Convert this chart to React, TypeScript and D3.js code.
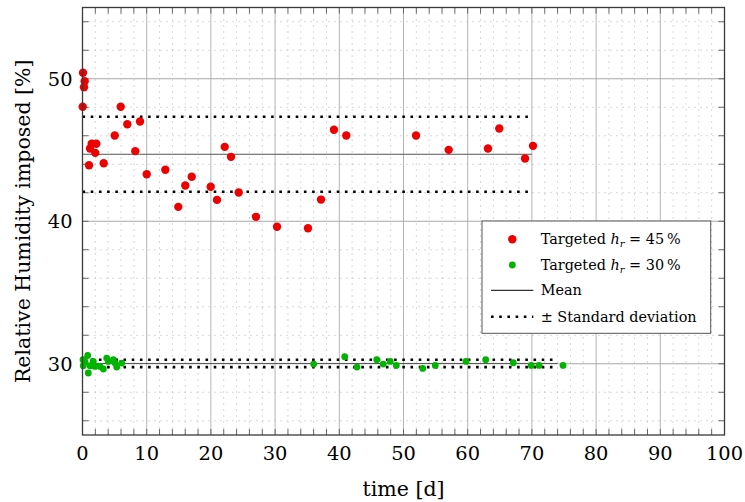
import React from "react";
import * as d3 from "d3";

// Targeted h_r = 45 % series (time in days, RH in %)
const redTime = [0.08, 0.34, 0.23, 0.03, 5.95, 6.98, 8.96, 5.02, 1.43, 2.15, 1.17, 1.99, 8.22, 22.15, 23.13, 1.01, 3.3, 10.0, 12.9, 14.92, 16.01, 17.01, 19.97, 20.95, 24.33, 27.02, 30.3, 35.12, 37.15, 39.17, 41.09, 51.95, 57.04, 63.16, 64.92, 68.93, 70.17];
const redRH = [50.42, 49.83, 49.41, 48.03, 48.03, 46.81, 47.0, 46.02, 45.44, 45.44, 45.11, 44.8, 44.92, 45.22, 44.52, 43.93, 44.07, 43.3, 43.61, 41.01, 42.51, 43.12, 42.42, 41.5, 42.02, 40.31, 39.61, 39.51, 41.52, 46.42, 46.02, 46.02, 45.01, 45.11, 46.51, 44.4, 45.29];

// Targeted h_r = 30 % series
const greenTime = [0.08, 0.81, 0.9, 0.12, 0.39, 1.68, 1.95, 2.73, 3.24, 3.77, 4.02, 4.8, 5.06, 5.33, 6.1, 1.17, 36.01, 40.84, 42.76, 45.83, 46.85, 47.94, 48.88, 52.99, 54.95, 59.74, 62.8, 67.1, 69.9, 71.1, 74.85];
const greenRH = [30.28, 30.58, 29.35, 29.86, 30.14, 30.16, 29.81, 29.81, 29.63, 30.4, 30.16, 30.28, 30.05, 29.77, 30.05, 29.86, 29.98, 30.49, 29.77, 30.28, 29.98, 30.16, 29.88, 29.67, 29.88, 30.16, 30.28, 30.07, 29.88, 29.88, 29.88];

// mean / standard deviation lines: [mean, sd, tStart, tEnd]
const redStats = [44.7, 2.63, 0, 70];
const greenStats = [30.02, 0.26, 0, 74];

const xTicks = [0, 10, 20, 30, 40, 50, 60, 70, 80, 90, 100];
const yTicks = [30, 40, 50];
const xMinor = d3.range(0, 101, 2).filter((v) => v % 10 !== 0);
const yMinor = d3.range(26, 55, 2).filter((v) => v % 10 !== 0);

const legendLabels = ["Targeted", "Targeted", "Mean", "± Standard deviation"];
const legendValues = ["45", "30"];

const W = 745;
const H = 502;
const L = 82.5, R = 724.5, T = 7.5, B = 435;
const FONT = "'DejaVu Serif', serif";
const RED = "#ee0000";
const GREEN = "#00b400";

export default function App() {
  const x = d3.scaleLinear().domain([0, 100]).range([L, R]);
  const y = d3.scaleLinear().domain([25, 55]).range([B, T]);

  const statLines = (s: number[], key: string) => {
    const [m, sd, t0, t1] = s;
    return (
      <g key={key}>
        <line x1={x(t0)} x2={x(t1)} y1={y(m)} y2={y(m)} stroke="#555" strokeWidth={1} />
        <line x1={x(t0)} x2={x(t1)} y1={y(m + sd)} y2={y(m + sd)} stroke="#000" strokeWidth={2.6} strokeDasharray="2.6 5.6" />
        <line x1={x(t0)} x2={x(t1)} y1={y(m - sd)} y2={y(m - sd)} stroke="#000" strokeWidth={2.6} strokeDasharray="2.6 5.6" />
      </g>
    );
  };

  const lgX = 482, lgY = 221, lgW = 228.7, lgH = 112.3;
  const rowY = [239.3, 265, 290.3, 316.7];
  const textX = 540.7;

  return (
    <svg width={W} height={H} style={{ position: "absolute", left: 0, top: 0, display: "block", background: "#fff" }} fontFamily={FONT}>
      <rect x={0} y={0} width={W} height={H} fill="#fff" />
      {/* minor grid */}
      {xMinor.map((v) => (
        <line key={"xm" + v} x1={x(v)} x2={x(v)} y1={T} y2={B} stroke="#b0b0b0" strokeWidth={1} strokeDasharray="1 5" />
      ))}
      {yMinor.map((v) => (
        <line key={"ym" + v} x1={L} x2={R} y1={y(v)} y2={y(v)} stroke="#b0b0b0" strokeWidth={1} strokeDasharray="1 5" />
      ))}
      {/* major grid */}
      {xTicks.map((v) => (
        <line key={"xg" + v} x1={x(v)} x2={x(v)} y1={T} y2={B} stroke="#b4b4b4" strokeWidth={1} />
      ))}
      {yTicks.map((v) => (
        <line key={"yg" + v} x1={L} x2={R} y1={y(v)} y2={y(v)} stroke="#a8a8a8" strokeWidth={1} />
      ))}
      {/* ticks */}
      {xMinor.concat(xTicks).map((v) => (
        <g key={"xt" + v}>
          <line x1={x(v)} x2={x(v)} y1={B} y2={B - 6} stroke="#666" strokeWidth={1} />
          <line x1={x(v)} x2={x(v)} y1={T} y2={T + 6} stroke="#666" strokeWidth={1} />
        </g>
      ))}
      {yMinor.concat(yTicks).map((v) => (
        <g key={"yt" + v}>
          <line x1={L} x2={L + 6} y1={y(v)} y2={y(v)} stroke="#666" strokeWidth={1} />
          <line x1={R} x2={R - 6} y1={y(v)} y2={y(v)} stroke="#666" strokeWidth={1} />
        </g>
      ))}
      {statLines(redStats, "rs")}
      {statLines(greenStats, "gs")}
      {/* points */}
      {redTime.map((t, i) => (
        <circle key={"r" + i} cx={x(t)} cy={y(redRH[i])} r={4.2} fill={RED} />
      ))}
      {greenTime.map((t, i) => (
        <circle key={"g" + i} cx={x(t)} cy={y(greenRH[i])} r={3.4} fill={GREEN} />
      ))}
      {/* frame */}
      <rect x={L} y={T} width={R - L} height={B - T} fill="none" stroke="#3a3a3a" strokeWidth={1.3} />
      {/* tick labels */}
      {xTicks.map((v) => (
        <text key={"xl" + v} x={x(v)} y={459.5} fontSize={19.4} textAnchor="middle" fill="#000">
          {v}
        </text>
      ))}
      {yTicks.map((v) => (
        <text key={"yl" + v} x={72.5} y={y(v) + 7} fontSize={19.4} textAnchor="end" fill="#000">
          {v}
        </text>
      ))}
      {/* axis titles */}
      <text x={(L + R) / 2} y={496} fontSize={20.5} textAnchor="middle" fill="#000">
        time [d]
      </text>
      <text transform={`translate(30,${(T + B) / 2}) rotate(-90)`} fontSize={20.5} textAnchor="middle" fill="#000">
        Relative Humidity imposed [%]
      </text>
      {/* legend */}
      <rect x={lgX} y={lgY} width={lgW} height={lgH} fill="#fff" stroke="#555" strokeWidth={1} />
      <circle cx={512.3} cy={rowY[0]} r={4.2} fill={RED} />
      <circle cx={512.3} cy={rowY[1]} r={3.4} fill={GREEN} />
      <line x1={491} x2={533.3} y1={rowY[2]} y2={rowY[2]} stroke="#000" strokeWidth={1} />
      <line x1={491} x2={533.3} y1={rowY[3]} y2={rowY[3]} stroke="#000" strokeWidth={2.6} strokeDasharray="2.6 5.6" />
      {legendValues.map((val, i) => (
        <text key={"lt" + i} x={textX} y={rowY[i] + 5} fontSize={14.4} fill="#000">
          {legendLabels[i]}{" "}
          <tspan fontStyle="italic">h</tspan>
          <tspan fontStyle="italic" fontSize={10} dy={3}>r</tspan>
          <tspan dy={-3}>{" = " + val + "\u2009%"}</tspan>
        </text>
      ))}
      <text x={textX} y={rowY[2] + 5} fontSize={14.4} fill="#000">{legendLabels[2]}</text>
      <text x={textX} y={rowY[3] + 5} fontSize={14.4} fill="#000">{legendLabels[3]}</text>
    </svg>
  );
}
